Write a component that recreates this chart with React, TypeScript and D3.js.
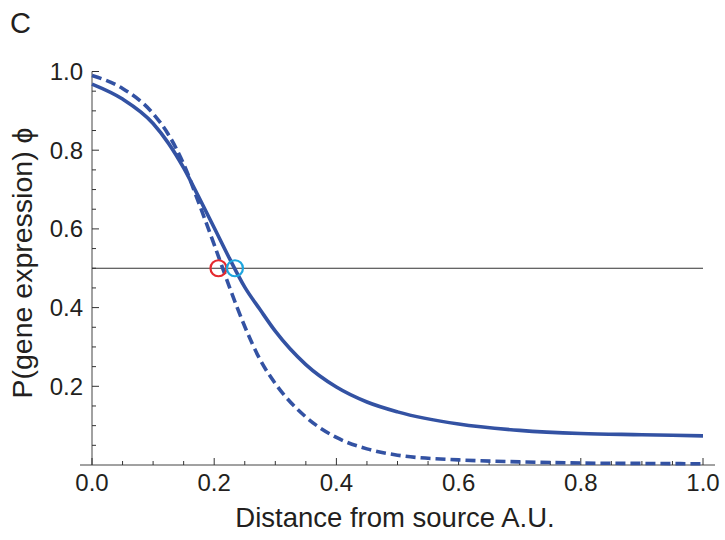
import React from "react";
import * as d3 from "d3";

// values
const xs = [0, 0.05, 0.1, 0.125, 0.15, 0.175, 0.2, 0.225, 0.25, 0.275, 0.3, 0.35, 0.4, 0.45, 0.5, 0.6, 0.7, 0.8, 0.9, 1.0];
const solidY = [0.968, 0.93, 0.868, 0.818, 0.755, 0.68, 0.603, 0.525, 0.452, 0.395, 0.34, 0.255, 0.198, 0.16, 0.135, 0.104, 0.088, 0.08, 0.077, 0.074];
const dashedY = [0.99, 0.957, 0.893, 0.84, 0.765, 0.665, 0.56, 0.452, 0.352, 0.268, 0.207, 0.122, 0.07, 0.041, 0.025, 0.013, 0.008, 0.005, 0.004, 0.003];
const halfMarks = [
  { x: 0.207, color: "#e52a2f" },
  { x: 0.234, color: "#1ea6df" },
];
const xTicks = [0, 0.2, 0.4, 0.6, 0.8, 1.0];
const yTicks = [0.2, 0.4, 0.6, 0.8, 1.0];
const threshold = 0.5;

const W = 725;
const H = 540;
const FONT = "'Liberation Sans', Arial, Helvetica, sans-serif";
const INK = "#231f20";
const BLUE = "#3352a3";

export default function App() {
  const x = d3.scaleLinear().domain([0, 1]).range([92, 703]);
  const y = d3.scaleLinear().domain([0, 1]).range([465, 71.5]);

  const line = d3
    .line<number>()
    .x((_, i) => x(xs[i]))
    .y((d) => y(d))
    .curve(d3.curveMonotoneX);

  const minorX = d3.range(0, 1.0001, 0.05);
  const minorY = d3.range(0.05, 1.0001, 0.05);
  const isMajor = (v: number) => Math.abs(v * 5 - Math.round(v * 5)) < 1e-6;

  return (
    <svg width={W} height={H} style={{ position: "absolute", left: 0, top: 0, background: "#fff" }}>
      <text x={10} y={33} fontFamily={FONT} fontSize={29} fill={INK}>C</text>

      {/* axes */}
      <line x1={80} x2={715} y1={y(0)} y2={y(0)} stroke="#444" strokeWidth={1} />
      <line x1={x(0)} x2={x(0)} y1={y(0)} y2={y(1)} stroke="#444" strokeWidth={1} />

      {minorX.map((v, i) => (
        <line key={"xt" + i} x1={x(v)} x2={x(v)} y1={y(0)} y2={y(0) - (isMajor(v) ? 7 : 4)} stroke="#333" strokeWidth={1} />
      ))}
      {minorY.map((v, i) => (
        <line key={"yt" + i} x1={x(0)} x2={x(0) + (isMajor(v) ? 7 : 4)} y1={y(v)} y2={y(v)} stroke="#333" strokeWidth={1} />
      ))}

      {xTicks.map((v) => (
        <text key={"xl" + v} x={x(v)} y={y(0) + 26} textAnchor="middle" fontFamily={FONT} fontSize={24} fill={INK}>
          {v.toFixed(1)}
        </text>
      ))}
      {yTicks.map((v) => (
        <text key={"yl" + v} x={x(0) - 9} y={y(v) + 8.5} textAnchor="end" fontFamily={FONT} fontSize={24} fill={INK}>
          {v.toFixed(1)}
        </text>
      ))}

      <text x={395} y={527} textAnchor="middle" fontFamily={FONT} fontSize={27.5} fill={INK}>
        Distance from source A.U.
      </text>
      <text
        transform={`translate(32, 263) rotate(-90)`}
        textAnchor="middle"
        fontFamily={FONT}
        fontSize={28.5}
        fill={INK}
      >
        P(gene expression) ϕ
      </text>

      {/* threshold line */}
      <line x1={x(0)} x2={x(1)} y1={y(threshold)} y2={y(threshold)} stroke="#333" strokeWidth={1} />

      <path d={line(dashedY) || ""} fill="none" stroke={BLUE} strokeWidth={3.6} strokeDasharray="10,5" />
      <path d={line(solidY) || ""} fill="none" stroke={BLUE} strokeWidth={3.6} />

      {halfMarks.map((m) => (
        <circle key={m.color} cx={x(m.x)} cy={y(threshold)} r={8} fill="none" stroke={m.color} strokeWidth={2.2} />
      ))}
    </svg>
  );
}
